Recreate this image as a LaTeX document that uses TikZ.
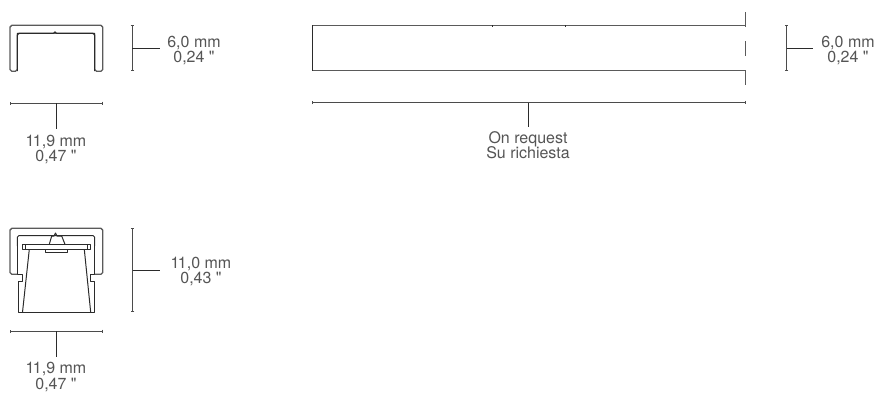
\documentclass[tikz,border=0pt]{standalone}
\usepackage{fontspec}
\setmainfont{TeX Gyre Heros}[Ligatures=TeXOff]
\usepackage{tikz}
\usetikzlibrary{arrows.meta}

\definecolor{inkdark}{HTML}{2B2B2B}
\definecolor{inkgrey}{HTML}{6E6E6E}
\definecolor{labelgrey}{HTML}{555555}

\newcommand{\oneone}{1\kern-1.6pt 1}

\tikzset{
  outline/.style={draw=inkdark, line width=1pt, line join=round},
  shell/.style={outline, draw=inkgrey!70!inkdark, line width=1.3pt},
  dimline/.style={draw=inkdark!85, line width=1.1pt, {Bar[width=3.5pt,length=0.8pt]}-{Bar[width=3.5pt,length=0.8pt]}},
  dimtick/.style={draw=inkdark, line width=1pt},
  dimlabel/.style={text=labelgrey, font=\fontsize{16}{15.5}\selectfont, align=center, inner sep=0pt}
}

\begin{document}
\begin{tikzpicture}[x=1pt, y=-1pt]
  \useasboundingbox (0, 0) rectangle (880, 392);

  % cover, section
  \draw [shell, rounded corners=1.8pt] (17.3, 71.3) -- (17.3, 33.3) -- (94.7, 33.3) -- (94.7, 71.3)
    -- (102.7, 71.3) -- (102.7, 25.3) -- (10, 25.3) -- (10, 71.3) -- cycle;
  \draw [outline] (17.3, 71) -- (17.3, 33.3) -- (53.5, 33.3) -- (55, 31.8) -- (56.5, 33.3)
    -- (94.7, 33.3) -- (94.7, 71);

  \coordinate (coverHa) at (132.3, 25.3);
  \coordinate (coverHb) at (132.3, 71.3);
  \coordinate (coverHm) at (132.3, 48.3);
  \coordinate (coverHe) at (159.7, 48.3);
  \draw [dimline] (coverHa) -- (coverHb);
  \draw [dimtick] (coverHm) -- (coverHe);
  \node [dimlabel] (coverHt) at (194, 50.5) {6,0 mm\\0,24 "};

  \coordinate (coverWa) at (10, 103.3);
  \coordinate (coverWb) at (102.7, 103.3);
  \coordinate (coverWm) at (56.5, 103.3);
  \coordinate (coverWe) at (56.5, 129.3);
  \draw [dimline] (coverWa) -- (coverWb);
  \draw [dimtick] (coverWm) -- (coverWe);
  \node [dimlabel] (coverWt) at (56, 149.5) {\oneone,9 mm\\0,47 "};

  % cover, side view
  \draw [shell] (745.7, 25.3) -- (312.3, 25.3) -- (312.3, 70.7) -- (745.7, 70.7);
  \draw [outline, line width=0.6pt] (312.3, 25.3) -- (312.3, 70.7);
  \draw [outline, line width=0.6pt] (492.3, 25.3) -- +(0, 1.2);
  \draw [outline, line width=0.6pt] (565, 25.3) -- +(0, 1.2);
  \draw [shell] (745.7, 12.3) -- (745.7, 26.7);
  \draw [shell] (745.7, 41) -- (745.7, 56);
  \draw [shell] (745.7, 70) -- (745.7, 85);

  \coordinate (sideHa) at (786.7, 25.3);
  \coordinate (sideHb) at (786.7, 70.7);
  \coordinate (sideHm) at (786.7, 48.3);
  \coordinate (sideHe) at (813.3, 48.3);
  \draw [dimline] (sideHa) -- (sideHb);
  \draw [dimtick] (sideHm) -- (sideHe);
  \node [dimlabel] (sideHt) at (848, 50.5) {6,0 mm\\0,24 "};

  \coordinate (sideWa) at (312.3, 102.7);
  \coordinate (sideWb) at (745.7, 102.7);
  \coordinate (sideWm) at (528.7, 102.7);
  \coordinate (sideWe) at (528.7, 126.7);
  \draw [dimline] (sideWa) -- (sideWb);
  \draw [dimtick] (sideWm) -- (sideWe);
  \node [dimlabel] (sideWt) at (528, 145.3) {On request\\Su richiesta};

  % assembled section
  \draw [shell, rounded corners=1.8pt] (17.3, 274.3) -- (10, 274.3) -- (10, 228.3) -- (102.7, 228.3)
    -- (102.7, 274.3) -- (94.7, 274.3);
  \draw [outline, rounded corners=1.5pt] (17.3, 246) -- (17.3, 235.7) -- (94.7, 235.7) -- (94.7, 246);
  \draw [outline] (17.3, 246) -- (17.3, 274.3) -- (22.5, 274.3) -- (22.5, 281) -- (18, 281)
    -- (18, 312.3) -- (94.3, 312.3) -- (94.3, 281) -- (90, 281) -- (90, 274.3) -- (94.7, 274.3) -- (94.7, 246);
  % plate, lens, reflector
  \draw [outline] (22.7, 244.3) rectangle (90.7, 249.3);
  \draw [outline] (25.5, 244.3) -- (25.5, 249.3);
  \draw [outline] (87.8, 244.3) -- (87.8, 249.3);
  \draw [outline] (45.7, 249.3) -- (45.7, 252.3) -- (67.7, 252.3) -- (67.7, 249.3);
  \draw [outline] (49.3, 244.3) -- (51.7, 236) -- (54, 236) -- (55.5, 233) -- (57, 236) -- (61.7, 236) -- (65, 244.3);
  \draw [outline] (29.3, 249.3) -- (22.5, 312.3);
  \draw [outline] (84.3, 249.3) -- (90.7, 312.3);

  \coordinate (fullHa) at (132.7, 228.3);
  \coordinate (fullHb) at (132.7, 312.3);
  \coordinate (fullHm) at (132.7, 270.3);
  \coordinate (fullHe) at (160, 270.3);
  \draw [dimline] (fullHa) -- (fullHb);
  \draw [dimtick] (fullHm) -- (fullHe);
  \node [dimlabel] (fullHt) at (201, 271.5) {\oneone,0 mm\\0,43 "};

  \coordinate (fullWa) at (10, 331.3);
  \coordinate (fullWb) at (102.7, 331.3);
  \coordinate (fullWm) at (56.5, 331.3);
  \coordinate (fullWe) at (56.5, 357.3);
  \draw [dimline] (fullWa) -- (fullWb);
  \draw [dimtick] (fullWm) -- (fullWe);
  \node [dimlabel] (fullWt) at (56, 376.8) {\oneone,9 mm\\0,47 "};
\end{tikzpicture}
\end{document}
